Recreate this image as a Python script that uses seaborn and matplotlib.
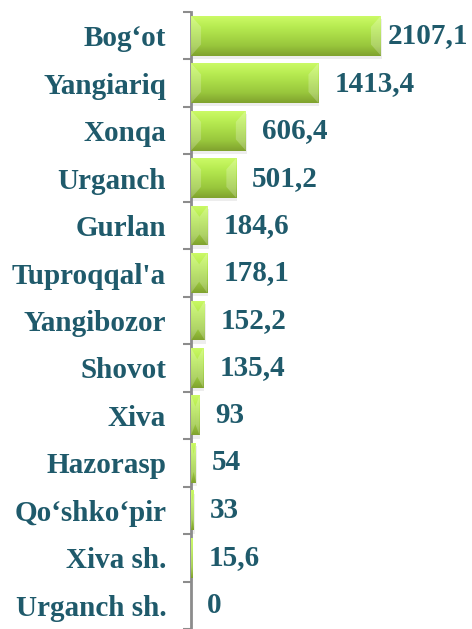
import numpy as np
import pandas as pd
import matplotlib
matplotlib.use("Agg")
import matplotlib.pyplot as plt
from matplotlib.colors import LinearSegmentedColormap
from matplotlib.patches import Polygon
import seaborn as sns

districts = ["Bog‘ot", "Yangiariq", "Xonqa", "Urganch", "Gurlan", "Tuproqqal'a",
             "Yangibozor", "Shovot", "Xiva", "Hazorasp", "Qo‘shko‘pir", "Xiva sh.", "Urganch sh."]
values = [2107.1, 1413.4, 606.4, 501.2, 184.6, 178.1, 152.2, 135.4, 93, 54, 33, 15.6, 0]
value_labels = ["2107,1", "1413,4", "606,4", "501,2", "184,6", "178,1", "152,2",
                "135,4", "93", "54", "33", "15,6", "0"]

df = pd.DataFrame({"district": districts, "value": values})

sns.set_style("white")
plt.rcParams["font.family"] = ["Liberation Serif", "DejaVu Serif"]

text_color = "#1F5A6B"
fig = plt.figure(figsize=(4.72, 6.29), dpi=100)
ax = fig.add_axes([0.405, 0.0, 0.595, 0.981])

sns.barplot(data=df, y="district", x="value", orient="h", color="#A6D846",
            width=0.84, ax=ax, edgecolor="none", zorder=2)

ax.set_xlim(0, 3120)
ax.set_ylim(len(districts) - 0.5, -0.5)

cmap = LinearSegmentedColormap.from_list(
    "bev", ["#CBFA66", "#B8EC52", "#A8DA46", "#98C63C", "#80A22E"])
grad = np.linspace(0, 1, 64).reshape(-1, 1)
for p in ax.patches[:]:
    x0, y0 = p.get_x(), p.get_y()
    w, h = p.get_width(), p.get_height()
    if w <= 0:
        continue
    ax.add_patch(plt.Rectangle((x0, y0 + 0.07), w + 10, h, facecolor="#000000",
                               alpha=0.07, edgecolor="none", zorder=1))
    im = ax.imshow(grad, cmap=cmap, aspect="auto", extent=(x0, x0 + w, y0 + h, y0),
                   zorder=3, interpolation="bicubic")
    im.set_clip_path(p)
    d = min(110, w / 2)
    for xa, xb in [(x0, x0 + d), (x0 + w, x0 + w - d)]:
        ax.add_patch(Polygon([(xa, y0), (xb, y0 + h * 0.28), (xb, y0 + h * 0.72), (xa, y0 + h)],
                             closed=True, facecolor="white", alpha=0.22,
                             edgecolor="none", zorder=4))

fig.canvas.draw()
renderer = fig.canvas.get_renderer()
fig_w = fig.bbox.width
texts = []
for i, (v, lab) in enumerate(zip(values, value_labels)):
    t = ax.annotate(lab, xy=(v, i), xytext=(11.5, 0), textcoords="offset points",
                    va="center", ha="left", fontsize=21, fontweight="bold", color=text_color)
    bb = t.get_window_extent(renderer)
    if bb.x1 > fig_w - 4:
        shift_px = bb.x1 - (fig_w - 4)
        t.set_position((11.5 - shift_px * 72 / fig.dpi, 0))

ax.set_xlabel("")
ax.set_ylabel("")
ax.set_xticks([])
ax.set_yticks(range(len(districts)))
ax.set_yticklabels(districts, fontsize=21, fontweight="bold", color=text_color)
ax.set_yticks(np.arange(-0.5, len(districts), 1), minor=True)
ax.tick_params(axis="y", which="major", length=0, pad=18)
ax.tick_params(axis="y", which="minor", length=6, width=1.5, color="#8C8C8C", left=True)

for s in ["top", "right", "bottom"]:
    ax.spines[s].set_visible(False)
ax.spines["left"].set_color("#8C8C8C")
ax.spines["left"].set_linewidth(2)
ax.patch.set_alpha(0)

fig.savefig("out.png", dpi=100)
